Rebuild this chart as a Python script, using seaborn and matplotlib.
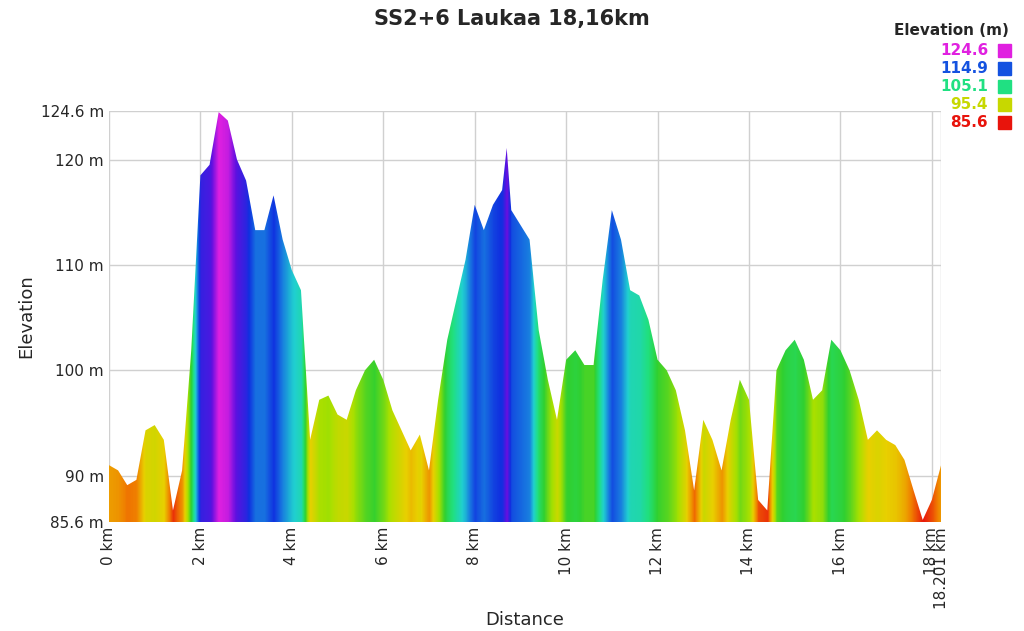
import numpy as np
import matplotlib.pyplot as plt
import seaborn as sns
from matplotlib.colors import LinearSegmentedColormap

distance_km = [0.0, 0.2, 0.4, 0.6, 0.8, 1.0, 1.2, 1.4, 1.6, 1.8, 2.0, 2.2, 2.4, 2.6, 2.8, 3.0,
               3.2, 3.4, 3.6, 3.8, 4.0, 4.2, 4.4, 4.6, 4.8, 5.0, 5.2, 5.4, 5.6, 5.8, 6.0, 6.2,
               6.4, 6.6, 6.8, 7.0, 7.2, 7.4, 7.6, 7.8, 8.0, 8.2, 8.4, 8.6, 8.7, 8.8, 9.0, 9.2,
               9.4, 9.6, 9.8, 10.0, 10.2, 10.4, 10.6, 10.8, 11.0, 11.2, 11.4, 11.6, 11.8, 12.0,
               12.2, 12.4, 12.6, 12.8, 13.0, 13.2, 13.4, 13.6, 13.8, 14.0, 14.2, 14.4, 14.6,
               14.8, 15.0, 15.2, 15.4, 15.6, 15.8, 16.0, 16.2, 16.4, 16.6, 16.8, 17.0, 17.2,
               17.4, 17.6, 17.8, 18.0, 18.201]
elevation_m = [91.0, 90.5, 89.1, 89.6, 94.3, 94.8, 93.4, 86.7, 90.5, 101.9, 118.5, 119.5, 124.5,
               123.7, 120.0, 118.0, 113.3, 113.3, 116.6, 112.4, 109.5, 107.6, 93.4, 97.2, 97.6,
               95.8, 95.3, 98.1, 100.0, 101.0, 99.1, 96.2, 94.3, 92.4, 93.9, 90.5, 97.2, 102.9,
               106.7, 110.5, 115.7, 113.3, 115.7, 117.1, 121.1, 115.2, 113.8, 112.4, 103.8, 99.1,
               95.3, 101.0, 101.9, 100.5, 100.5, 108.6, 115.2, 112.4, 107.6, 107.1, 104.8, 101.0,
               100.0, 98.1, 94.3, 88.6, 95.3, 93.4, 90.5, 95.3, 99.1, 97.2, 87.7, 86.7, 100.0,
               101.9, 102.9, 101.0, 97.2, 98.1, 102.9, 101.9, 100.0, 97.2, 93.4, 94.3, 93.4,
               92.9, 91.5, 88.6, 85.8, 87.7, 91.0]
legend_values = [124.6, 114.9, 105.1, 95.4, 85.6]

sns.set_style("whitegrid")
cmap = LinearSegmentedColormap.from_list(
    "elev", ["#e8140c", "#f08000", "#e8d000", "#a8e000", "#30d030", "#20e080",
             "#20d0d0", "#1878e0", "#1030e0", "#6010e0", "#e020e0"])
vmin, vmax = 85.6, 124.6

fig = plt.figure(figsize=(10.24, 6.31), dpi=100)
ax = fig.add_axes([0.1064, 0.1727, 0.8126, 0.6513])

d = np.array(distance_km)
e = np.array(elevation_m)
poly = ax.fill_between(d, vmin, e, color="none", linewidth=0)
# colour strip: each column coloured by the profile elevation at that distance
xs = np.linspace(d[0], d[-1], 1200)
strip = np.interp(xs, d, e)[np.newaxis, :]
im = ax.imshow(strip, cmap=cmap, vmin=vmin, vmax=vmax, aspect="auto",
               extent=[d[0], d[-1], vmin, vmax], origin="lower", zorder=2)
im.set_clip_path(poly.get_paths()[0], transform=ax.transData)

ax.set_xlim(0, 18.201)
ax.set_ylim(vmin, vmax)
xt = [0, 2, 4, 6, 8, 10, 12, 14, 16, 18, 18.201]
ax.set_xticks(xt)
ax.set_xticklabels([f"{x} km" for x in xt[:-1]] + ["18.201 km"], rotation=90, fontsize=11)
yt = [85.6, 90, 100, 110, 120, 124.6]
ax.set_yticks(yt)
ax.set_yticklabels(["85.6 m", "90 m", "100 m", "110 m", "120 m", "124.6 m"], fontsize=11)
ax.grid(True, color="#d0d0d0", linewidth=1)
ax.set_axisbelow(True)
for s in ax.spines.values():
    s.set_visible(False)
ax.set_xlabel("Distance", fontsize=13, labelpad=2)
ax.set_ylabel("Elevation", fontsize=13)
ax.tick_params(length=0)

fig.text(0.5, 0.97, "SS2+6 Laukaa 18,16km", ha="center", va="center", fontsize=15, fontweight="bold")
fig.text(0.985, 0.952, "Elevation (m)", ha="right", va="center", fontsize=11, fontweight="bold")
for i, v in enumerate(legend_values):
    y = 0.92 - i * 0.0285
    c = cmap((v - vmin) / (vmax - vmin))
    fig.text(0.965, y, f"{v}", ha="right", va="center", fontsize=11, color=c, fontweight="bold")
    fig.patches.append(plt.Rectangle((0.975, y - 0.011), 0.012, 0.021, transform=fig.transFigure,
                                     color=c, figure=fig))

fig.savefig("out.png", dpi=100)
